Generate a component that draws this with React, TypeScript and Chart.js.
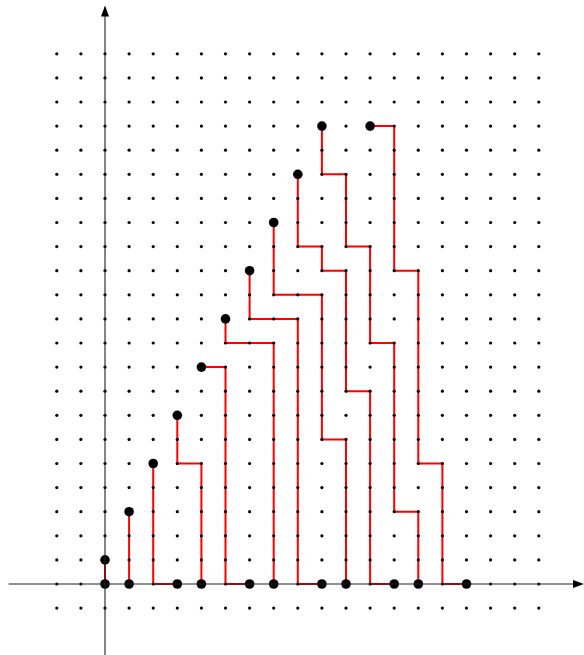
import React, { useEffect, useRef } from "react";
import { Chart, registerables } from "chart.js";

Chart.register(...registerables);

// lattice coordinates
const gridXs = [-2, -1, 0, 1, 2, 3, 4, 5, 6, 7, 8, 9, 10, 11, 12, 13, 14, 15, 16, 17, 18];
const gridYs = [-1, 0, 1, 2, 3, 4, 5, 6, 7, 8, 9, 10, 11, 12, 13, 14, 15, 16, 17, 18, 19, 20, 21, 22];

// lattice paths (corner vertices)
const path0 = [[0, 1], [0, 0]];
const path1 = [[1, 3], [1, 0]];
const path2 = [[2, 5], [2, 0], [3, 0]];
const path3 = [[3, 7], [3, 5], [4, 5], [4, 0]];
const path4 = [[4, 9], [5, 9], [5, 0], [6, 0]];
const path5 = [[5, 11], [5, 10], [7, 10], [7, 0]];
const path6 = [[6, 13], [6, 11], [8, 11], [8, 0], [9, 0]];
const path7 = [[7, 15], [7, 12], [9, 12], [9, 6], [10, 6], [10, 0]];
const path8 = [[8, 17], [8, 14], [9, 14], [9, 13], [10, 13], [10, 8], [11, 8], [11, 0], [12, 0]];
const path9 = [[9, 19], [9, 17], [10, 17], [10, 14], [11, 14], [11, 10], [12, 10], [12, 3], [13, 3], [13, 0]];
const path10 = [[11, 19], [12, 19], [12, 13], [13, 13], [13, 5], [14, 5], [14, 0], [15, 0]];
const paths = [path0, path1, path2, path3, path4, path5, path6, path7, path8, path9, path10];

// start and end points
const startPoints = [[0, 1], [1, 3], [2, 5], [3, 7], [4, 9], [5, 11], [6, 13], [7, 15], [8, 17], [9, 19], [11, 19]];
const endPoints = [[0, 0], [1, 0], [3, 0], [4, 0], [6, 0], [7, 0], [9, 0], [10, 0], [12, 0], [13, 0], [15, 0]];

// axis extents in data units
const axisXFrom = -4;
const axisYFrom = -3;
const axisYTo = 24.0;

const W = 584;
const H = 655;
const UNIT = 24.1;
const OX = 105;
const OY = 584;

const toPts = (arr: number[][]) => arr.map(([x, y]) => ({ x, y }));

const axesPlugin = {
  id: "arrowAxes",
  afterDatasetsDraw(chart: any) {
    const ctx = chart.ctx;
    const xs = chart.scales.x;
    const ys = chart.scales.y;
    const x0 = xs.getPixelForValue(0);
    const y0 = ys.getPixelForValue(0);
    const xL = xs.getPixelForValue(axisXFrom);
    const xR = xs.getPixelForValue(xs.max);
    const yB = ys.getPixelForValue(axisYFrom);
    const yT = ys.getPixelForValue(axisYTo);
    ctx.save();
    ctx.strokeStyle = "#222";
    ctx.fillStyle = "#000";
    ctx.lineWidth = 1.1;
    ctx.beginPath();
    ctx.moveTo(xL, y0);
    ctx.lineTo(xR - 6, y0);
    ctx.moveTo(x0, yB);
    ctx.lineTo(x0, yT + 6);
    ctx.stroke();
    // arrow heads
    ctx.beginPath();
    ctx.moveTo(xR, y0);
    ctx.lineTo(xR - 11, y0 - 4);
    ctx.lineTo(xR - 11, y0 + 4);
    ctx.closePath();
    ctx.fill();
    ctx.beginPath();
    ctx.moveTo(x0, yT);
    ctx.lineTo(x0 - 4, yT + 11);
    ctx.lineTo(x0 + 4, yT + 11);
    ctx.closePath();
    ctx.fill();
    ctx.restore();
  },
};

export default function App() {
  const ref = useRef<HTMLCanvasElement>(null);
  useEffect(() => {
    if (!ref.current) return;
    const grid: { x: number; y: number }[] = [];
    gridYs.forEach((y) => gridXs.forEach((x) => grid.push({ x, y })));

    const pathSets = paths.map((p) => ({
      type: "line" as const,
      data: toPts(p),
      borderColor: "#ff0000",
      borderWidth: 2,
      pointRadius: 0,
      fill: false,
      tension: 0,
      order: 5,
      showLine: true,
    }));

    const chart = new Chart(ref.current, {
      type: "scatter",
      data: {
        datasets: [
          {
            data: toPts(endPoints),
            pointRadius: 4.8,
            pointBackgroundColor: "#000",
            pointBorderWidth: 0,
            order: 0,
          },
          {
            data: toPts(startPoints),
            pointRadius: 4.8,
            pointBackgroundColor: "#000",
            pointBorderWidth: 0,
            order: 0,
          },
          {
            data: grid,
            pointRadius: 1.6,
            pointBackgroundColor: "#000",
            pointBorderWidth: 0,
            order: 1,
          },
          ...pathSets,
        ] as any,
      },
      options: {
        animation: false,
        responsive: false,
        maintainAspectRatio: false,
        layout: { padding: 0, autoPadding: false },
        plugins: { legend: { display: false }, tooltip: { enabled: false } },
        events: [],
        scales: {
          x: { type: "linear", display: false, min: -OX / UNIT, max: (W - OX) / UNIT },
          y: { type: "linear", display: false, min: -(H - OY) / UNIT, max: OY / UNIT },
        },
      },
      plugins: [axesPlugin],
    });
    return () => chart.destroy();
  }, []);

  return (
    <div style={{ position: "fixed", left: 0, top: 0, width: W, height: H, background: "#fff" }}>
      <canvas ref={ref} width={W} height={H} style={{ width: W, height: H, display: "block" }} />
    </div>
  );
}
